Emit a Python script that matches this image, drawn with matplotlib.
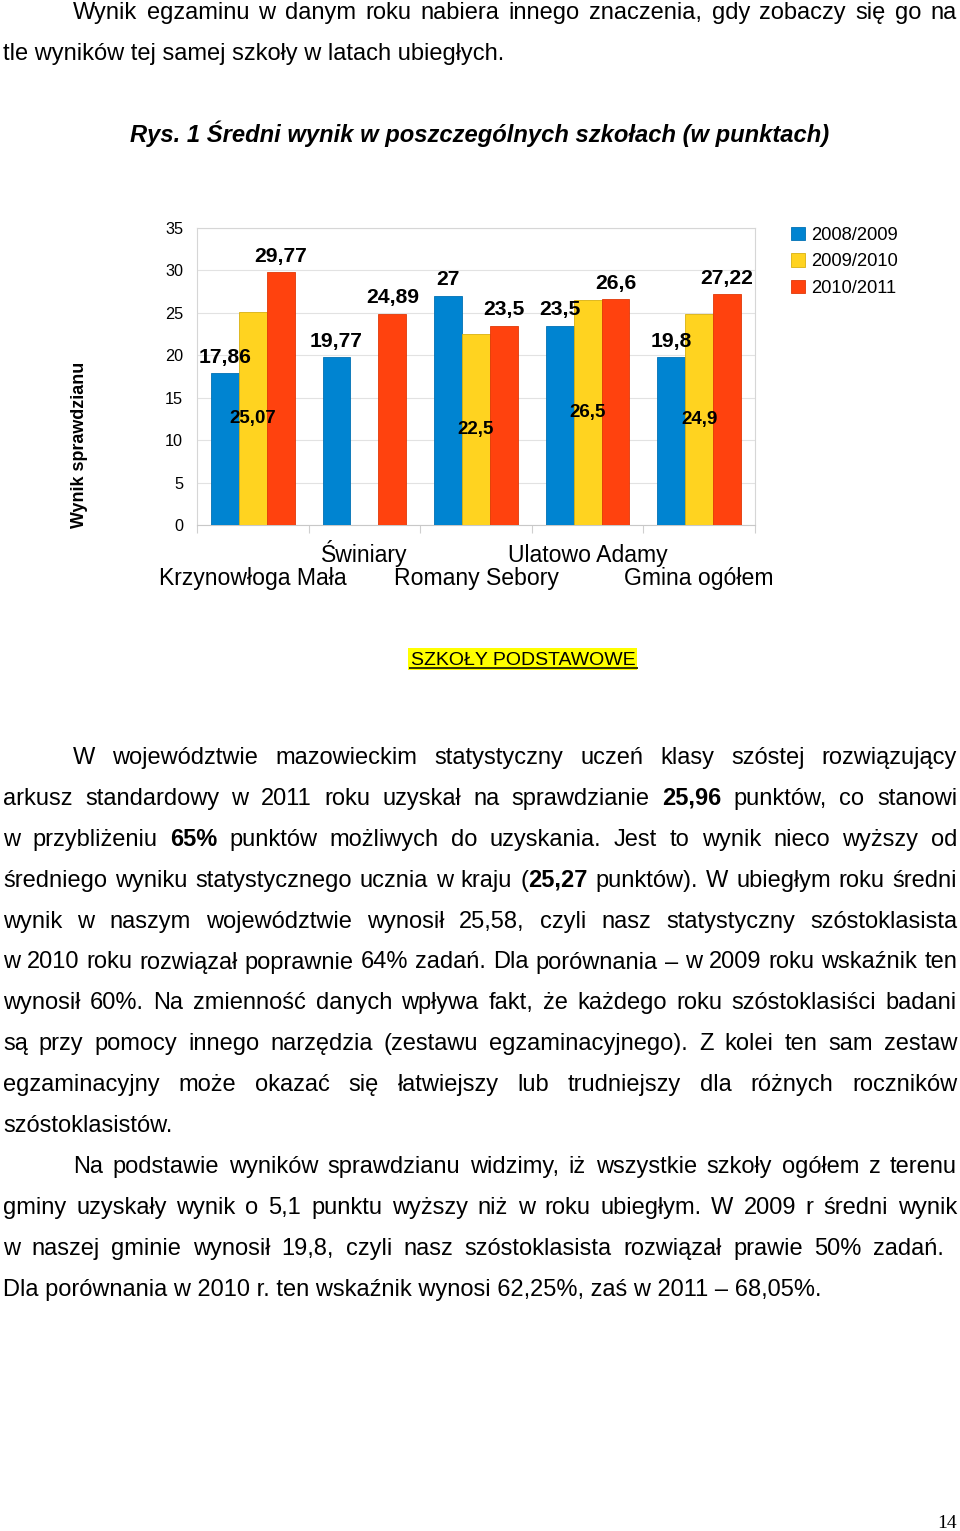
import numpy as np
import matplotlib
matplotlib.use('Agg')
import matplotlib.pyplot as plt
from matplotlib import font_manager as fm
from matplotlib.patches import Patch, Rectangle

# ---------------- data ----------------
schools = ['Krzynowłoga Mała', 'Świniary', 'Romany Sebory', 'Ulatowo Adamy', 'Gmina ogółem']
seasons = ['2008/2009', '2009/2010', '2010/2011']
s0809 = [17.86, 19.77, 27.0, 23.5, 19.8]
s0910 = [25.07, np.nan, 22.5, 26.5, 24.9]
s1011 = [29.77, 24.89, 23.5, 26.6, 27.22]
yticks = [0, 5, 10, 15, 20, 25, 30, 35]

W, H = 960, 1531
fig = plt.figure(figsize=(W / 100, H / 100), dpi=100)
fig.patch.set_facecolor('white')
page = fig.add_axes([0, 0, 1, 1])
page.set_xlim(0, W)
page.set_ylim(H, 0)
page.axis('off')
renderer = fig.canvas.get_renderer()

SANS = ['Liberation Sans', 'DejaVu Sans']
names = {f.name for f in fm.fontManager.ttflist}
NARROW = ['Liberation Sans Narrow', 'Liberation Sans', 'DejaVu Sans'] if 'Liberation Sans Narrow' in names else SANS
SERIF = ['Liberation Serif', 'DejaVu Serif']


def width_px(s, size, weight='normal', style='normal', family=SANS):
    t = page.text(0, 0, s, fontsize=size, fontweight=weight, fontstyle=style, family=family)
    w = t.get_window_extent(renderer).width
    t.remove()
    return w


def parse(line):
    words = []
    bold = False
    for raw in line.split():
        parts = raw.split('**')
        segs = []
        for k, p in enumerate(parts):
            if k > 0:
                bold = not bold
            if p:
                segs.append((p, bold))
        words.append(segs)
    return words


def justify(line, x0, x1, yb, size, family=SANS):
    words = parse(line)
    while True:
        items = []
        total = 0
        for word in words:
            ws = []
            for txt, b in word:
                w = width_px(txt, size, 'bold' if b else 'normal', family=family)
                ws.append((txt, b, w))
            items.append(ws)
            total += sum(w for _, _, w in ws)
        gap = (x1 - x0 - total) / max(len(items) - 1, 1)
        if gap >= 0.05 * size * 1.389 or size < 8:
            break
        size *= 0.995
    x = x0
    for ws in items:
        for txt, b, w in ws:
            page.text(x, yb, txt, fontsize=size, family=family,
                      fontweight='bold' if b else 'normal', ha='left', va='baseline')
            x += w
        x += gap


def plain(line, x0, yb, size, family=SANS, maxw=None):
    if maxw is not None:
        w = width_px(line, size, family=family)
        if w > maxw:
            size = size * maxw / w
    page.text(x0, yb, line, fontsize=size, family=family, ha='left', va='baseline')


fs = 16 * 502 / width_px('tle wyników tej samej szkoły w latach ubiegłych.', 16)

# ---------------- top text ----------------
justify('Wynik egzaminu w danym roku nabiera innego znaczenia, gdy zobaczy się go na', 73, 957, 19, fs)
plain('tle wyników tej samej szkoły w latach ubiegłych.', 3, 60, fs)

title = 'Rys. 1 Średni wynik w poszczególnych szkołach (w punktach)'
tsize = 16 * 699 / width_px(title, 16, 'bold', 'italic', NARROW)
page.text(479.5, 142, title, fontsize=tsize, fontweight='bold', fontstyle='italic',
          family=NARROW, ha='center', va='baseline')

# ---------------- chart ----------------
ax = fig.add_axes([197 / W, 1 - 525 / H, 558 / W, 297 / H])
x = np.arange(len(schools))
bw = 0.25
series = [s0809, s0910, s1011]
colors = ['#0084d1', '#ffd320', '#ff420e']
edges = ['#0070b4', '#d8b010', '#e03808']
for k, (vals, c, e) in enumerate(zip(series, colors, edges)):
    ax.bar(x + (k - 1) * bw, vals, width=bw, color=c, edgecolor=e, linewidth=0.6,
           label=seasons[k], zorder=3)


def fmt(v):
    return f'{v:g}'.replace('.', ',')


for i in range(len(schools)):
    for k in (0, 2):
        v = series[k][i]
        if not np.isnan(v):
            ax.annotate(fmt(v), (x[i] + (k - 1) * bw, v), xytext=(0, 7.5),
                        textcoords='offset points', ha='center', va='baseline',
                        fontsize=15.2, fontweight='bold', family=SANS, zorder=5,
                        annotation_clip=False)
    v = series[1][i]
    if not np.isnan(v):
        ax.text(x[i], v / 2, fmt(v), ha='center', va='center', fontsize=13.5,
                fontweight='bold', family=SANS, zorder=5)

ax.set_xlim(-0.5, len(schools) - 0.5)
ax.set_ylim(0, 35)
ax.set_yticks(yticks)
ax.set_yticklabels([str(t) for t in yticks], fontsize=11.7, family=SANS)
ax.tick_params(axis='y', length=0, pad=10)
ax.set_xticks(x)
ax.set_xticklabels([''] * len(schools))
ax.tick_params(axis='x', which='major', length=0)
ax.set_xticks(np.arange(-0.5, len(schools)), minor=True)
ax.tick_params(axis='x', which='minor', length=6, color='#cfcfcf', width=0.8)
ax.grid(axis='y', color='#e2e2e2', linewidth=0.8, zorder=0)
ax.set_axisbelow(True)
for s in ax.spines.values():
    s.set_color('#d6d6d6')
    s.set_linewidth(0.8)
ax.spines['bottom'].set_color('#c8c8c8')

for i, name in enumerate(schools):
    off = 43.2 if i % 2 == 0 else 26.6
    ax.annotate(name, (x[i], 0), xycoords=ax.get_xaxis_transform(), xytext=(0, -off),
                textcoords='offset points', ha='center', va='baseline',
                fontsize=16.6, family=SANS, annotation_clip=False)

page.text(80, 445, 'Wynik sprawdzianu', rotation=90, fontsize=12.9, fontweight='bold',
          family=SANS, ha='center', va='center')

handles = [Patch(facecolor=c, edgecolor=e, linewidth=0.6) for c, e in zip(colors, edges)]
fig.legend(handles, seasons, loc='upper left', bbox_to_anchor=(791 / W, 1 - 227 / H),
           frameon=False, borderaxespad=0, borderpad=0, handlelength=0.75,
           handleheight=0.75, handletextpad=0.35, labelspacing=0.5,
           prop={'family': SANS, 'size': 13.2})

# ---------------- heading ----------------
head = 'SZKOŁY PODSTAWOWE'
hsize = 14 * 225 / width_px(head, 14)
page.add_patch(Rectangle((408, 648), 229, 22, facecolor='#ffff00', edgecolor='none', zorder=1))
page.text(523, 665, head, fontsize=hsize, family=SANS, ha='center', va='baseline', zorder=2)
page.plot([410, 637], [667.5, 667.5], color='#333300', linewidth=1.4, zorder=2)

# ---------------- paragraph ----------------
para = [
    ('W województwie mazowieckim statystyczny uczeń klasy szóstej rozwiązujący', 73, 957, SANS),
    ('arkusz standardowy w 2011 roku uzyskał na sprawdzianie **25,96** punktów, co stanowi', 3, 957, SANS),
    ('w przybliżeniu **65%** punktów możliwych do uzyskania. Jest to wynik nieco wyższy od', 3, 957, SANS),
    ('średniego wyniku statystycznego ucznia w kraju (**25,27** punktów). W ubiegłym roku średni', 3, 957, SANS),
    ('wynik w naszym województwie wynosił 25,58, czyli nasz statystyczny szóstoklasista', 3, 957, SANS),
    ('w 2010 roku rozwiązał poprawnie 64% zadań. Dla porównania – w 2009 roku wskaźnik ten', 3, 957, SANS),
    ('wynosił 60%. Na zmienność danych wpływa fakt, że każdego roku szóstoklasiści badani', 3, 957, SANS),
    ('są przy pomocy innego narzędzia (zestawu egzaminacyjnego). Z kolei ten sam zestaw', 3, 957, SANS),
    ('egzaminacyjny może okazać się łatwiejszy lub trudniejszy dla różnych roczników', 3, 957, SANS),
    ('szóstoklasistów.', 3, None, SANS),
    ('Na podstawie wyników sprawdzianu widzimy, iż wszystkie szkoły ogółem z terenu', 73, 957, SANS),
    ('gminy uzyskały wynik o 5,1 punktu wyższy niż w roku ubiegłym. W 2009 r średni wynik', 3, 957, NARROW),
    ('w naszej gminie wynosił 19,8, czyli nasz szóstoklasista rozwiązał prawie 50% zadań.', 3, 944, NARROW),
    ('Dla porównania w 2010 r. ten wskaźnik wynosi 62,25%, zaś w 2011 – 68,05%.', 3, None, NARROW),
]
for i, (line, x0, x1, fam) in enumerate(para):
    yb = 764 + 40.9 * i
    if x1 is None:
        plain(line, x0, yb, fs, fam, maxw=822 if fam is NARROW else None)
    else:
        justify(line, x0, x1, yb, fs, fam)

page.text(957, 1528, '14', fontsize=14, family=SERIF, ha='right', va='baseline')

fig.savefig('out.png', dpi=100, facecolor='white')
